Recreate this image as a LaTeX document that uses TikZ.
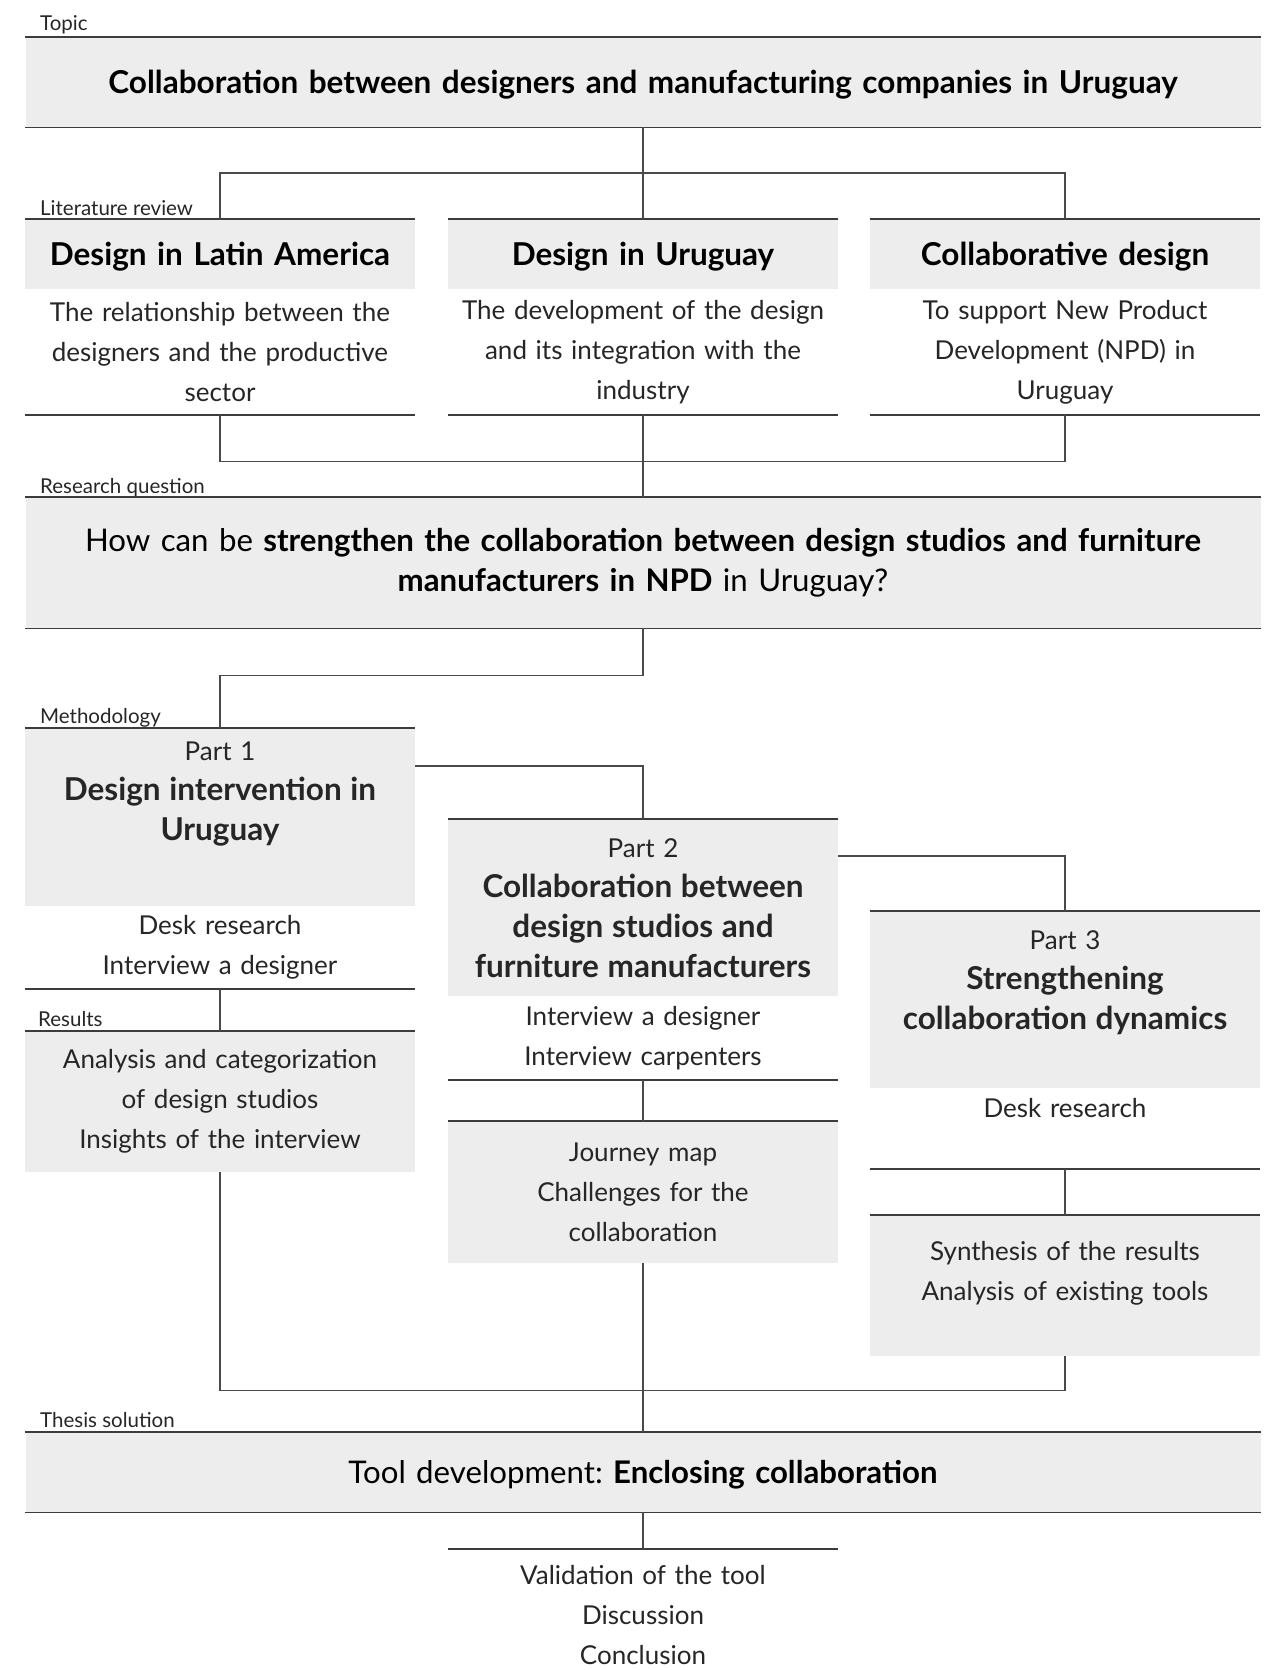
\documentclass[tikz,border=0pt]{standalone}
\usepackage{fontspec}
\setmainfont{Lato}
\usepackage{tikz}
\usepackage{xcolor}
\frenchspacing

\definecolor{panelgray}{HTML}{EDEDED}
\definecolor{rulegray}{HTML}{3C3C3C}
\definecolor{linkgray}{HTML}{4A4A4A}
\definecolor{inkgray}{HTML}{262626}

\newcommand{\lblfont}{\fontsize{20.5}{22}\selectfont}
\newcommand{\txtfont}{\fontsize{26}{40}\selectfont}
\newcommand{\hdfont}{\fontsize{31.5}{39}\selectfont\bfseries}
\newcommand{\bigfont}{\fontsize{31.2}{40}\selectfont}

\tikzset{
  rule/.style={draw=rulegray, line width=1.6pt},
  link/.style={draw=linkgray, line width=1.1pt},
  sectlbl/.style={anchor=west, inner sep=0pt, text=inkgray, font=\lblfont},
  panel/.style={anchor=north, fill=panelgray, inner sep=0pt, minimum width=390pt,
    text width=390pt, align=center, text=black},
  notes/.style={anchor=north, inner sep=0pt, text width=390pt, align=center,
    text=inkgray, font=\txtfont},
}

\begin{document}
\begin{tikzpicture}[x=1pt,y=-1pt]
\useasboundingbox (0,0) rectangle (1265,1670);

% topic
\node[sectlbl] (topiclbl) at (40,25) {Topic};
\node[panel, text width=1235pt, minimum height=90pt, text depth=0pt, font=\hdfont] (topic) at (643,37)
  {Collaboration between designers and manufacturing companies in Uruguay};
\draw[rule] (topic.north west) -- (topic.north east);
\draw[rule] (topic.south west) -- (topic.south east);

% literature review
\node[sectlbl] (litlbl) at (40,208) {Literature review};
\node[panel, minimum height=70pt, text depth=0pt, font=\hdfont] (lit1) at (220,219) {Design in Latin America};
\node[panel, minimum height=70pt, text depth=0pt, font=\hdfont] (lit2) at (643,219) {Design in Uruguay};
\node[panel, minimum height=70pt, text depth=0pt, font=\hdfont] (lit3) at (1065,219) {Collaborative design};
\node[notes, minimum height=125pt] (lit1n) at (lit1.south)
  {The relationship between the\\designers and the productive\\sector};
\node[notes, minimum height=125pt] (lit2n) at (lit2.south)
  {The development of the design\\and its integration with the\\industry};
\node[notes, minimum height=125pt] (lit3n) at (lit3.south)
  {To support New Product\\Development (NPD) in\\Uruguay};
\foreach \h/\b in {lit1/lit1n, lit2/lit2n, lit3/lit3n}{
  \draw[rule] (\h.north west) -- (\h.north east);
  \draw[rule] (\b.south west) -- (\b.south east);
}
\draw[link] (topic.south) -- (lit2.north);
\draw[link] (lit1.north) -- ++(0,-46) -| (lit3.north);

% research question
\node[sectlbl] (rqlbl) at (40,487.5) {Research question};
\node[panel, text width=1235pt, minimum height=131pt, font=\bigfont] (rq) at (643,497)
  {How can be \textbf{strengthen the collaboration between design studios and furniture}\\
   \textbf{manufacturers in NPD} in Uruguay?};
\draw[rule] (rq.north west) -- (rq.north east);
\draw[rule] (rq.south west) -- (rq.south east);
\draw[link] (lit1n.south) -- ++(0,47) -| (lit3n.south);
\draw[link] (lit2n.south) -- (rq.north);

% methodology
\node[sectlbl] (metlbl) at (40,717.5) {Methodology};
\node[panel, minimum height=178pt] (p1) at (220,728) {};
\node[notes] (p1t) at (220,742) {Part 1\\{\hdfont Design intervention in}\\{\hdfont Uruguay}};
\node[notes, minimum height=82pt] (p1n) at (p1.south) {Desk research\\Interview a designer};

\node[panel, minimum height=177pt] (p2) at (643,819) {};
\node[notes] (p2t) at (643,838) {Part 2\\{\hdfont Collaboration between}\\{\hdfont design studios and}\\{\hdfont furniture manufacturers}};
\node[notes, minimum height=83pt] (p2n) at (p2.south) {Interview a designer\\Interview carpenters};

\node[panel, minimum height=177pt] (p3) at (1065,911) {};
\node[notes] (p3t) at (1065,930) {Part 3\\{\hdfont Strengthening}\\{\hdfont collaboration dynamics}};
\node[notes, inner ysep=10pt] (p3n) at (p3.south) {Desk research};
\coordinate (p3end) at (1065,1169);

\draw[rule] (p1.north west) -- (p1.north east);
\draw[rule] (p1n.south west) -- (p1n.south east);
\draw[rule] (p2.north west) -- (p2.north east);
\draw[rule] (p2n.south west) -- (p2n.south east);
\draw[rule] (p3.north west) -- (p3.north east);
\draw[rule] (p3end -| p3.west) -- (p3end -| p3.east);
\draw[link] (rq.south) -- ++(0,47) -| (p1.north);
\draw[link] ([yshift=-38pt]p1.north east) -| (p2.north);
\draw[link] ([yshift=-37pt]p2.north east) -| (p3.north);

% results
\node[sectlbl] (reslbl) at (38,1019.5) {Results};
\node[panel, minimum height=141pt, font=\txtfont, text=inkgray] (r1) at (220,1031)
  {Analysis and categorization\\of design studios\\Insights of the interview};
\node[panel, minimum height=142pt, font=\txtfont, text=inkgray] (r2) at (643,1121)
  {Journey map\\Challenges for the\\collaboration};
\node[panel, minimum height=141pt] (r3) at (1065,1215) {};
\node[notes] (r3t) at (1065,1241) {Synthesis of the results\\Analysis of existing tools};
\draw[rule] (r1.north west) -- (r1.north east);
\draw[rule] (r2.north west) -- (r2.north east);
\draw[rule] (r3.north west) -- (r3.north east);
\draw[link] (p1n.south) -- (r1.north);
\draw[link] (p2n.south) -- (r2.north);
\draw[link] (p3end) -- (r3.north);

% thesis solution
\node[sectlbl] (thslbl) at (40,1420.5) {Thesis solution};
\node[panel, text width=1235pt, minimum height=80pt, text depth=0pt, font=\bigfont] (thesis) at (643,1432)
  {Tool development: \textbf{Enclosing collaboration}};
\draw[rule] (thesis.north west) -- (thesis.north east);
\draw[rule] (thesis.south west) -- (thesis.south east);
\draw[link] (r1.south) -- ++(0,218) -| (r3.south);
\draw[link] (r2.south) -- (thesis.north);

\node[notes, inner ysep=16pt] (fin) at (643,1549) {Validation of the tool\\Discussion\\Conclusion};
\draw[rule] (fin.north west) -- (fin.north east);
\draw[link] (thesis.south) -- (fin.north);
\end{tikzpicture}
\end{document}
